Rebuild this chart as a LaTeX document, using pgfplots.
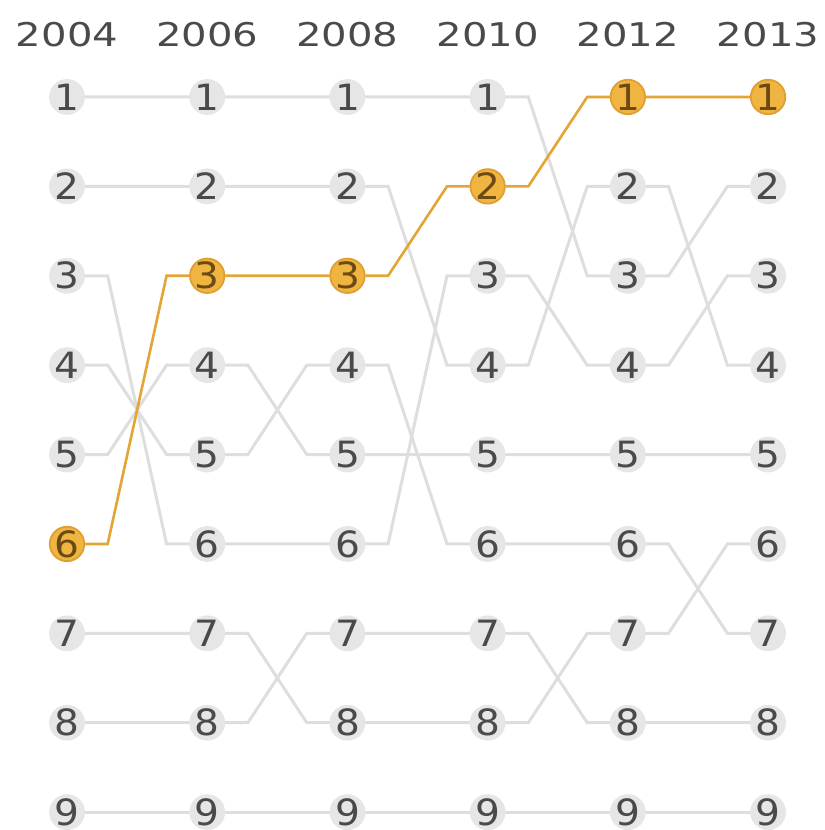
\documentclass[border=0pt]{standalone}
\usepackage{pgfplots}
\pgfplotsset{compat=1.18}
\usepackage{pgfplotstable}
\usepackage{fontspec}
\setmainfont[FakeStretch=1.08]{DejaVu Sans}
\newfontfamily\yearfont[FakeStretch=1.23]{DejaVu Sans}
\definecolor{glines}{HTML}{DEDEDE}
\definecolor{gdot}{HTML}{E6E6E6}
\definecolor{gtext}{HTML}{4A4A4A}
\definecolor{oline}{HTML}{E3A535}
\definecolor{odot}{HTML}{F0B441}
\definecolor{oedge}{HTML}{E0A030}
\definecolor{otext}{HTML}{6B4A14}
\pgfplotstableread{
x r
0 1
0 2
0 3
0 4
0 5
0 6
0 7
0 8
0 9
1 1
1 2
1 3
1 4
1 5
1 6
1 7
1 8
1 9
2 1
2 2
2 3
2 4
2 5
2 6
2 7
2 8
2 9
3 1
3 2
3 3
3 4
3 5
3 6
3 7
3 8
3 9
4 1
4 2
4 3
4 4
4 5
4 6
4 7
4 8
4 9
5 1
5 2
5 3
5 4
5 5
5 6
5 7
5 8
5 9
}\dots
\pgfplotstableread{
x r
0 6
1 3
2 3
3 2
4 1
5 1
}\orange
\pgfplotstableread{
x y lab
0 0.307 2004
1 0.307 2006
2 0.307 2008
3 0.307 2010
4 0.307 2012
5 0.307 2013
}\years
\begin{document}
\begin{tikzpicture}
\begin{axis}[
  scale only axis, width=8.25cm, height=8.3cm,
  xmin=-0.478, xmax=5.406, ymin=-0.085, ymax=9.2,
  y dir=reverse, hide axis, clip=false,
]
% gray paths
\addplot[glines, line width=0.85pt, mark=none] coordinates {(0,1)(0.29,1)(0.71,1)(1,1)(1.29,1)(1.71,1)(2,1)(2.29,1)(2.71,1)(3,1)(3.29,1)(3.71,3)(4,3)(4.29,3)(4.71,2)(5,2)};
\addplot[glines, line width=0.85pt, mark=none] coordinates {(0,2)(0.29,2)(0.71,2)(1,2)(1.29,2)(1.71,2)(2,2)(2.29,2)(2.71,4)(3,4)(3.29,4)(3.71,2)(4,2)(4.29,2)(4.71,4)(5,4)};
\addplot[glines, line width=0.85pt, mark=none] coordinates {(0,3)(0.29,3)(0.71,6)(1,6)(1.29,6)(1.71,6)(2,6)(2.29,6)(2.71,3)(3,3)(3.29,3)(3.71,4)(4,4)(4.29,4)(4.71,3)(5,3)};
\addplot[glines, line width=0.85pt, mark=none] coordinates {(0,4)(0.29,4)(0.71,5)(1,5)(1.29,5)(1.71,4)(2,4)(2.29,4)(2.71,6)(3,6)(3.29,6)(3.71,6)(4,6)(4.29,6)(4.71,7)(5,7)};
\addplot[glines, line width=0.85pt, mark=none] coordinates {(0,5)(0.29,5)(0.71,4)(1,4)(1.29,4)(1.71,5)(2,5)(2.29,5)(2.71,5)(3,5)(3.29,5)(3.71,5)(4,5)(4.29,5)(4.71,5)(5,5)};
\addplot[glines, line width=0.85pt, mark=none] coordinates {(0,7)(0.29,7)(0.71,7)(1,7)(1.29,7)(1.71,8)(2,8)(2.29,8)(2.71,8)(3,8)(3.29,8)(3.71,7)(4,7)(4.29,7)(4.71,6)(5,6)};
\addplot[glines, line width=0.85pt, mark=none] coordinates {(0,8)(0.29,8)(0.71,8)(1,8)(1.29,8)(1.71,7)(2,7)(2.29,7)(2.71,7)(3,7)(3.29,7)(3.71,8)(4,8)(4.29,8)(4.71,8)(5,8)};
\addplot[glines, line width=0.85pt, mark=none] coordinates {(0,9)(5,9)};
% orange path
\addplot[oline, line width=0.75pt, mark=none] coordinates {(0,6)(0.29,6)(0.71,3)(1,3)(1.29,3)(1.71,3)(2,3)(2.29,3)(2.71,2)(3,2)(3.29,2)(3.71,1)(4,1)(4.29,1)(4.71,1)(5,1)};
% gray dots
\addplot[only marks, mark=*, mark size=4.9pt, mark options={fill=gdot, draw=gdot},
  point meta=explicit symbolic,
  nodes near coords, nodes near coords style={anchor=center, inner sep=0pt, text=gtext, font=\fontsize{10.3}{12}\selectfont}]
  table[x=x, y=r, meta=r] {\dots};
% orange dots
\addplot[only marks, mark=*, mark size=4.9pt, mark options={fill=odot, draw=oedge, line width=0.5pt},
  point meta=explicit symbolic,
  nodes near coords, nodes near coords style={anchor=center, inner sep=0pt, text=otext, font=\fontsize{10.3}{12}\selectfont}]
  table[x=x, y=r, meta=r] {\orange};
% year labels
\addplot[only marks, mark=none, point meta=explicit symbolic,
  nodes near coords, nodes near coords style={anchor=center, inner sep=0pt, text=gtext, font=\yearfont\fontsize{9.3}{11}\selectfont}]
  table[x=x, y=y, meta=lab] {\years};
\end{axis}
\pgfresetboundingbox
\path[use as bounding box] (current axis.south west) rectangle (current axis.north east);
\end{tikzpicture}
\end{document}
